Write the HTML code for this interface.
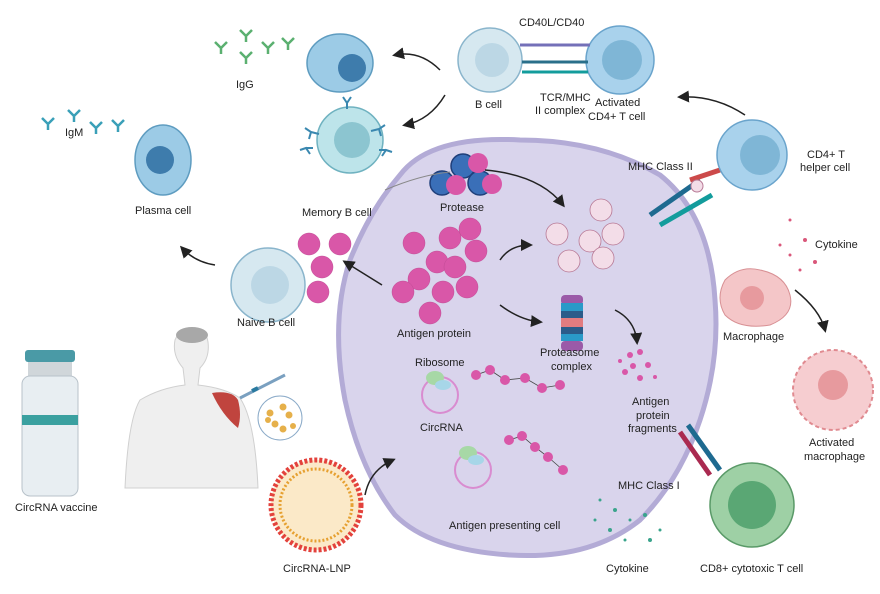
<!DOCTYPE html>
<html><head><meta charset="utf-8"><style>
html,body{margin:0;padding:0;background:#fff;width:880px;height:594px;overflow:hidden}
text{font-family:"Liberation Sans",sans-serif;font-size:11px;fill:#222}
</style></head><body>
<svg width="880" height="594" viewBox="0 0 880 594" xmlns="http://www.w3.org/2000/svg">
<defs>
<marker id="ar" markerWidth="8" markerHeight="8" refX="6" refY="4" orient="auto"><path d="M0,0 L8,4 L0,8 z" fill="#222"/></marker>
</defs>
<!-- big APC -->
<path d="M400,175 Q430,135 520,140 Q600,140 660,175 Q710,215 715,300 Q720,360 700,420 Q680,480 640,520 Q590,560 510,555 Q430,550 395,515 Q360,470 345,400 Q330,320 350,260 Q370,210 400,175 Z" fill="#d9d4ec" stroke="#b3abd6" stroke-width="5"/>
<!-- protease -->
<g stroke="#1f3f7a" stroke-width="1.5">
<circle cx="463" cy="166" r="12" fill="#3a6fb8"/><circle cx="442" cy="183" r="12" fill="#3a6fb8"/><circle cx="480" cy="183" r="12" fill="#3a6fb8"/></g>
<g fill="#d957a8"><circle cx="478" cy="163" r="10"/><circle cx="456" cy="185" r="10"/><circle cx="492" cy="184" r="10"/></g>
<text x="440" y="211">Protease</text>
<path d="M485,170 Q540,175 563,205" fill="none" stroke="#222" stroke-width="1.5" marker-end="url(#ar)"/>
<path d="M385,190 Q420,175 450,172" fill="none" stroke="#888" stroke-width="1"/>
<!-- antigen protein -->
<g fill="#d957a8" stroke="#c04a94" stroke-width=".5">
<circle cx="414" cy="243" r="11"/><circle cx="450" cy="238" r="11"/><circle cx="470" cy="229" r="11"/><circle cx="476" cy="251" r="11"/><circle cx="437" cy="262" r="11"/><circle cx="455" cy="267" r="11"/><circle cx="419" cy="279" r="11"/><circle cx="443" cy="292" r="11"/><circle cx="467" cy="287" r="11"/><circle cx="403" cy="292" r="11"/><circle cx="430" cy="313" r="11"/>
<circle cx="309" cy="244" r="11"/><circle cx="340" cy="244" r="11"/><circle cx="322" cy="267" r="11"/><circle cx="318" cy="292" r="11"/></g>
<text x="397" y="337">Antigen protein</text>
<path d="M382,285 L345,262" stroke="#222" stroke-width="1.5" marker-end="url(#ar)"/>
<path d="M500,260 Q510,245 530,245" fill="none" stroke="#222" stroke-width="1.5" marker-end="url(#ar)"/>
<path d="M500,305 Q520,320 540,322" fill="none" stroke="#222" stroke-width="1.5" marker-end="url(#ar)"/>
<!-- peptides -->
<g fill="#f3dde8" stroke="#b87a96" stroke-width=".8">
<circle cx="601" cy="210" r="11"/><circle cx="557" cy="234" r="11"/><circle cx="590" cy="241" r="11"/><circle cx="613" cy="234" r="11"/><circle cx="569" cy="261" r="11"/><circle cx="603" cy="258" r="11"/></g>
<!-- proteasome -->
<g><rect x="561" y="295" width="22" height="10" rx="4" fill="#9b5aa8"/><rect x="561" y="303" width="22" height="8" fill="#2a9ac8"/><rect x="561" y="311" width="22" height="7" fill="#2b5c8a"/><rect x="561" y="318" width="22" height="9" fill="#e27c80"/><rect x="561" y="327" width="22" height="7" fill="#2b5c8a"/><rect x="561" y="334" width="22" height="7" fill="#2a9ac8"/><rect x="561" y="341" width="22" height="10" rx="4" fill="#9b5aa8"/></g>
<text x="540" y="356">Proteasome</text><text x="551" y="370">complex</text>
<path d="M615,310 Q635,320 637,342" fill="none" stroke="#222" stroke-width="1.5" marker-end="url(#ar)"/>
<g fill="#d957a8"><circle cx="630" cy="355" r="3"/><circle cx="640" cy="352" r="3"/><circle cx="625" cy="372" r="3"/><circle cx="640" cy="378" r="3"/><circle cx="648" cy="365" r="3"/><circle cx="633" cy="366" r="3"/><circle cx="655" cy="377" r="2"/><circle cx="620" cy="361" r="2"/></g>
<text x="632" y="405">Antigen</text><text x="636" y="419">protein</text><text x="628" y="432">fragments</text>
<!-- circRNA -->
<text x="415" y="366">Ribosome</text>
<circle cx="440" cy="395" r="18" fill="none" stroke="#d98cd0" stroke-width="2"/>
<ellipse cx="435" cy="378" rx="9" ry="7" fill="#a7d8a6"/><ellipse cx="443" cy="385" rx="8" ry="5" fill="#a7d6e8"/>
<path d="M476,375 L490,370 L505,380 L525,378 L542,388 L560,385" fill="none" stroke="#444" stroke-width=".8"/>
<g fill="#d957a8"><circle cx="476" cy="375" r="5"/><circle cx="490" cy="370" r="5"/><circle cx="505" cy="380" r="5"/><circle cx="525" cy="378" r="5"/><circle cx="542" cy="388" r="5"/><circle cx="560" cy="385" r="5"/></g>
<text x="420" y="431">CircRNA</text>
<circle cx="473" cy="470" r="18" fill="none" stroke="#d98cd0" stroke-width="2"/>
<ellipse cx="468" cy="453" rx="9" ry="7" fill="#a7d8a6"/><ellipse cx="476" cy="460" rx="8" ry="5" fill="#a7d6e8"/>
<path d="M509,440 L522,436 L535,447 L548,457 L563,470" fill="none" stroke="#444" stroke-width=".8"/>
<g fill="#d957a8"><circle cx="509" cy="440" r="5"/><circle cx="522" cy="436" r="5"/><circle cx="535" cy="447" r="5"/><circle cx="548" cy="457" r="5"/><circle cx="563" cy="470" r="5"/></g>
<text x="449" y="529">Antigen presenting cell</text>
<!-- MHC II -->
<g stroke-width="5"><line x1="650" y1="215" x2="700" y2="180" stroke="#1e6a90"/><line x1="660" y1="225" x2="712" y2="195" stroke="#139c9c"/><line x1="690" y1="180" x2="720" y2="170" stroke="#cc4a4a"/></g>
<circle cx="697" cy="186" r="6" fill="#f3dde8" stroke="#b87a96"/>
<text x="628" y="170">MHC Class II</text>
<!-- MHC I -->
<g stroke-width="5"><line x1="688" y1="425" x2="720" y2="470" stroke="#1e6a90"/><line x1="680" y1="432" x2="710" y2="475" stroke="#aa2a50"/></g>
<text x="618" y="489">MHC Class I</text>
<!-- CD4 T helper -->
<circle cx="752" cy="155" r="35" fill="#a9d2ec" stroke="#6aa4cc" stroke-width="1.5"/><circle cx="760" cy="155" r="20" fill="#7fb6d6"/>
<text x="807" y="158">CD4+ T</text><text x="800" y="171">helper cell</text>
<path d="M745,115 Q715,95 680,97" fill="none" stroke="#222" stroke-width="1.5" marker-end="url(#ar)"/>
<!-- CD8 -->
<circle cx="752" cy="505" r="42" fill="#9ed0a5" stroke="#5a9a68" stroke-width="1.5"/><circle cx="752" cy="505" r="24" fill="#5aa774"/>
<text x="700" y="572">CD8+ cytotoxic T cell</text>
<!-- cytokines -->
<g fill="#3aa48c"><circle cx="600" cy="500" r="1.5"/><circle cx="615" cy="510" r="2"/><circle cx="630" cy="520" r="1.5"/><circle cx="645" cy="515" r="2"/><circle cx="660" cy="530" r="1.5"/><circle cx="610" cy="530" r="2"/><circle cx="625" cy="540" r="1.5"/><circle cx="650" cy="540" r="2"/><circle cx="595" cy="520" r="1.5"/></g>
<text x="606" y="572">Cytokine</text>
<g fill="#d9577a"><circle cx="790" cy="220" r="1.5"/><circle cx="805" cy="240" r="2"/><circle cx="790" cy="255" r="1.5"/><circle cx="815" cy="262" r="2"/><circle cx="800" cy="270" r="1.5"/><circle cx="780" cy="245" r="1.5"/></g>
<text x="815" y="248">Cytokine</text>
<!-- macrophage -->
<path d="M725,280 Q740,265 760,270 Q785,275 790,295 Q795,315 770,325 Q740,330 725,315 Q715,298 725,280Z" fill="#f4c6c8" stroke="#d89094"/>
<circle cx="752" cy="298" r="12" fill="#e79a9e"/>
<text x="723" y="340">Macrophage</text>
<path d="M795,290 Q820,310 825,330" fill="none" stroke="#222" stroke-width="1.5" marker-end="url(#ar)"/>
<circle cx="833" cy="390" r="40" fill="#f6cdd0" stroke="#e08a90" stroke-width="2" stroke-dasharray="4 3"/><circle cx="833" cy="385" r="15" fill="#e79a9e"/>
<text x="809" y="446">Activated</text><text x="804" y="460">macrophage</text>
<!-- B cell & T -->
<circle cx="490" cy="60" r="32" fill="#d6e8f0" stroke="#8ab5cc" stroke-width="1.5"/><circle cx="492" cy="60" r="17" fill="#bcd7e5"/>
<circle cx="620" cy="60" r="34" fill="#a9d2ec" stroke="#6aa4cc" stroke-width="1.5"/><circle cx="622" cy="60" r="20" fill="#7fb6d6"/>
<g stroke-width="3"><line x1="520" y1="45" x2="590" y2="45" stroke="#7470b8"/><line x1="522" y1="62" x2="588" y2="62" stroke="#2a6f8a"/><line x1="522" y1="72" x2="588" y2="72" stroke="#139c9c"/></g>
<text x="519" y="26">CD40L/CD40</text>
<text x="475" y="108">B cell</text>
<text x="540" y="101">TCR/MHC</text><text x="535" y="114">II complex</text>
<text x="595" y="106">Activated</text><text x="588" y="120">CD4+ T cell</text>
<path d="M440,70 Q420,50 395,55" fill="none" stroke="#222" stroke-width="1.5" marker-end="url(#ar)"/>
<path d="M445,95 Q430,120 405,125" fill="none" stroke="#222" stroke-width="1.5" marker-end="url(#ar)"/>
<!-- plasma cell top -->
<ellipse cx="340" cy="63" rx="33" ry="29" fill="#9ccbe6" stroke="#5e9cc0" stroke-width="1.5"/><circle cx="352" cy="68" r="14" fill="#3e7cac"/>
<g stroke="#5bb070" stroke-width="2.5" fill="none"><path d="M215,42 l6,6 l6,-6 M221,48 v6"/><path d="M240,30 l6,6 l6,-6 M246,36 v6"/><path d="M262,42 l6,6 l6,-6 M268,48 v6"/><path d="M240,52 l6,6 l6,-6 M246,58 v6"/><path d="M282,38 l6,6 l6,-6 M288,44 v6"/></g>
<text x="236" y="88">IgG</text>
<!-- memory B -->
<circle cx="350" cy="140" r="33" fill="#bde4ea" stroke="#6fb2c0" stroke-width="1.5"/><circle cx="352" cy="140" r="18" fill="#8cc5d0"/>
<g stroke="#3a88b0" stroke-width="2" fill="none"><path d="M305,128 l6,4 l-2,7 M311,132 l8,2"/><path d="M385,125 l-6,4 l2,7 M379,129 l-8,2"/><path d="M300,150 l6,-2 l4,6 M306,148 l7,0"/><path d="M392,152 l-6,-2 l-4,6 M386,150 l-7,0"/><path d="M343,97 l4,6 l4,-6 M347,103 v6"/></g>
<text x="302" y="216">Memory B cell</text>
<!-- plasma cell -->
<ellipse cx="163" cy="160" rx="28" ry="35" fill="#9ccbe6" stroke="#5e9cc0" stroke-width="1.5"/><circle cx="160" cy="160" r="14" fill="#3e7cac"/>
<g stroke="#3aa0b8" stroke-width="2.5" fill="none"><path d="M42,118 l6,6 l6,-6 M48,124 v6"/><path d="M68,110 l6,6 l6,-6 M74,116 v6"/><path d="M90,122 l6,6 l6,-6 M96,128 v6"/><path d="M112,120 l6,6 l6,-6 M118,126 v6"/></g>
<text x="65" y="136">IgM</text>
<text x="135" y="214">Plasma cell</text>
<path d="M215,265 Q195,262 182,248" fill="none" stroke="#222" stroke-width="1.5" marker-end="url(#ar)"/>
<!-- body -->
<path d="M125,488 Q128,420 140,400 Q160,388 185,385 L183,368 Q172,355 175,340 Q180,328 192,328 Q206,328 208,342 Q210,358 200,368 L198,385 Q225,388 240,398 Q255,420 258,488 Z" fill="#efefef" stroke="#d0d0d0"/>
<ellipse cx="192" cy="335" rx="16" ry="8" fill="#a8a8a8"/>
<path d="M212,393 Q232,390 238,400 Q242,415 238,428 Q222,415 212,393Z" fill="#c0443e"/>
<line x1="240" y1="398" x2="285" y2="375" stroke="#7aa0c0" stroke-width="3"/>
<line x1="252" y1="391" x2="258" y2="388" stroke="#2a7aa0" stroke-width="4"/>
<circle cx="280" cy="418" r="22" fill="#fff" stroke="#8aaac8"/>
<g fill="#e6b04a"><circle cx="270" cy="413" r="3.5"/><circle cx="283" cy="407" r="3.5"/><circle cx="289" cy="415" r="3.5"/><circle cx="275" cy="424" r="3.5"/><circle cx="268" cy="420" r="3"/><circle cx="283" cy="429" r="3.5"/><circle cx="293" cy="426" r="3"/></g>
<!-- naive B -->
<circle cx="268" cy="285" r="37" fill="#d6e8f0" stroke="#8ab5cc" stroke-width="1.5"/><circle cx="270" cy="285" r="19" fill="#bcd7e5"/>
<text x="237" y="326">Naive B cell</text>
<!-- vial -->
<rect x="25" y="350" width="50" height="12" rx="3" fill="#4a9aa6"/>
<rect x="28" y="362" width="44" height="14" fill="#d0d6da"/>
<rect x="22" y="376" width="56" height="120" rx="8" fill="#e8eef2" stroke="#b8c2ca"/>
<rect x="22" y="415" width="56" height="10" fill="#3aa0a0"/>
<text x="15" y="511">CircRNA vaccine</text>
<!-- LNP -->
<circle cx="316" cy="505" r="45" fill="#fbe9c8" stroke="#e3423c" stroke-width="5" stroke-dasharray="3 2"/>
<circle cx="316" cy="505" r="36" fill="none" stroke="#e6a030" stroke-width="3" stroke-dasharray="2 2"/>
<text x="283" y="572">CircRNA-LNP</text>
<path d="M365,495 Q370,470 393,460" fill="none" stroke="#222" stroke-width="1.5" marker-end="url(#ar)"/>
</svg>
</body></html>
